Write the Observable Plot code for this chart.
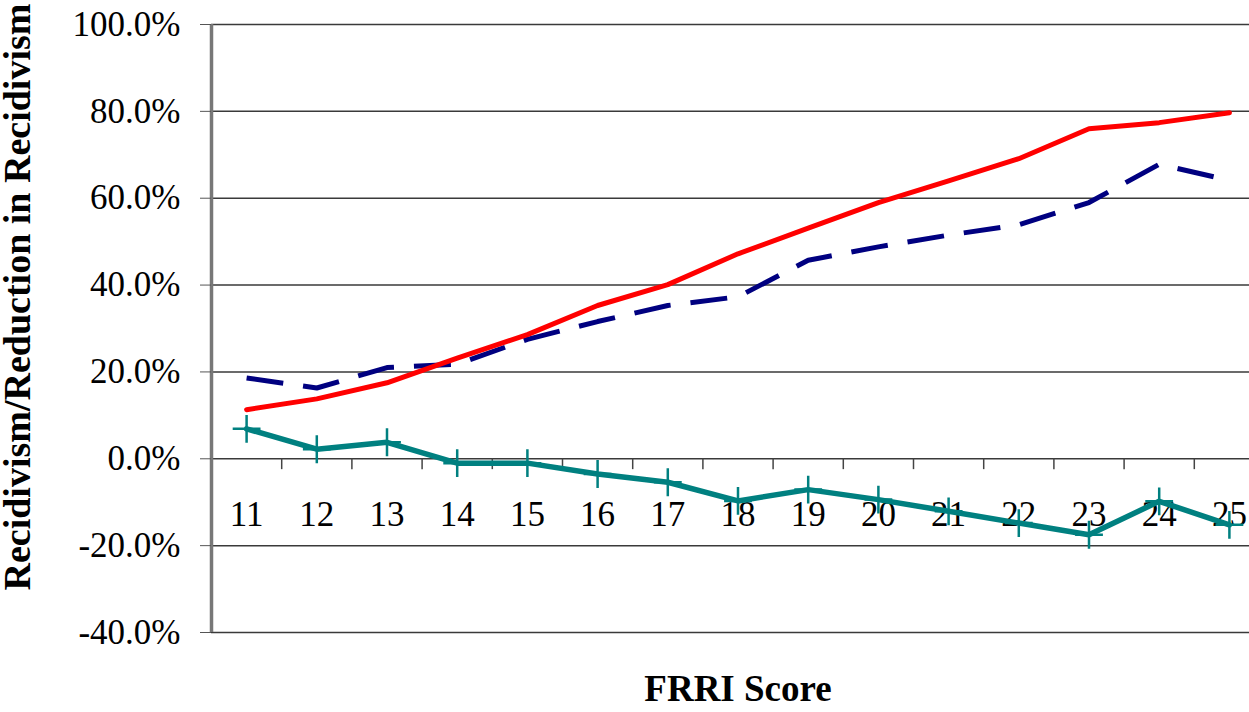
<!DOCTYPE html>
<html>
<head>
<meta charset="utf-8">
<script src="https://cdn.jsdelivr.net/npm/d3@7"></script>
<script src="https://cdn.jsdelivr.net/npm/@observablehq/plot@0.6"></script>
<style>
  html, body { margin: 0; padding: 0; background: #fff; overflow: hidden; }
  #chart svg { overflow: hidden; }
  #chart svg text, #chart svg g { font-family: "Liberation Serif", "Times New Roman", serif !important; }
</style>
</head>
<body>
<div id="chart"></div>
<script>
// ---- data ----
const scores = [11, 12, 13, 14, 15, 16, 17, 18, 19, 20, 21, 22, 23, 24, 25];
const redSeries = [0.113, 0.138, 0.175, 0.232, 0.286, 0.353, 0.401, 0.472, 0.531, 0.590, 0.640, 0.691, 0.760, 0.774, 0.797];
const navySeries = [0.186, 0.163, 0.210, 0.218, 0.275, 0.316, 0.353, 0.373, 0.457, 0.488, 0.515, 0.539, 0.590, 0.678, 0.641];
const tealSeries = [0.069, 0.022, 0.038, -0.010, -0.010, -0.035, -0.054, -0.097, -0.071, -0.094, -0.121, -0.148, -0.175, -0.098, -0.152];
const yTicks = [-0.4, -0.2, 0, 0.2, 0.4, 0.6, 0.8, 1.0];
const yLabel = "Recidivism/Reduction in Recidivism";
const xLabel = "FRRI Score";

const xDomain = [scores[0] - 0.5, scores[scores.length - 1] + 0.5];
const boundaries = scores.slice(0, -1).map(s => s + 0.5);

const toRows = (vals) => scores.map((s, i) => ({score: s, value: vals[i]}));
const red = toRows(redSeries), navy = toRows(navySeries), teal = toRows(tealSeries);

const serif = "Liberation Serif";
const pct = d3.format(".1%");
const yFormat = d => pct(d).replace("\u2212", "-");

const chart = Plot.plot({
  width: 1249,
  height: 712,
  marginLeft: 211,
  marginRight: -15,
  marginTop: 24,
  marginBottom: 80,
  style: {fontFamily: serif, background: "#fff", color: "#000", overflow: "hidden"},
  x: {type: "linear", domain: xDomain, axis: null},
  y: {domain: [yTicks[0], yTicks[yTicks.length - 1]], axis: null},
  marks: [
    Plot.ruleY(yTicks, {stroke: "#3a3a3a", strokeWidth: 1.5}),
    Plot.ruleX([xDomain[0]], {stroke: "#777", strokeWidth: 3.5}),
    Plot.axisY({ticks: yTicks, tickFormat: yFormat, tickSize: 11, tickPadding: 20, stroke: "#555",
      fontSize: 35, fontFamily: serif, fill: "#000", label: null}),
    Plot.ruleX(boundaries, {y1: 0, y2: -0.025, stroke: "#444", strokeWidth: 1.5}),
    Plot.text(scores, {x: d => d, y: 0, dy: 56, fontSize: 35, fontFamily: serif, fill: "#000"}),
    Plot.line(navy, {x: "score", y: "value", stroke: "#000080", strokeWidth: 5, strokeDasharray: "37,20", strokeLinecap: "butt"}),
    Plot.line(red, {x: "score", y: "value", stroke: "#ff0000", strokeWidth: 5}),
    Plot.line(teal, {x: "score", y: "value", stroke: "#008080", strokeWidth: 5.5}),
    Plot.dot(teal, {x: "score", y: "value", symbol: "plus", r: 9, stroke: "#008080", strokeWidth: 2.5}),
    Plot.text([yLabel], {frameAnchor: "bottom-left", rotate: -90, textAnchor: "start", dx: -182, dy: -42,
      fontSize: 38, fontWeight: "bold", fontFamily: serif, fill: "#000"}),
    Plot.text([xLabel], {frameAnchor: "bottom", dy: 68, fontSize: 37, fontWeight: "bold", fontFamily: serif, fill: "#000"})
  ]
});
document.getElementById("chart").appendChild(chart);
</script>
</body>
</html>
